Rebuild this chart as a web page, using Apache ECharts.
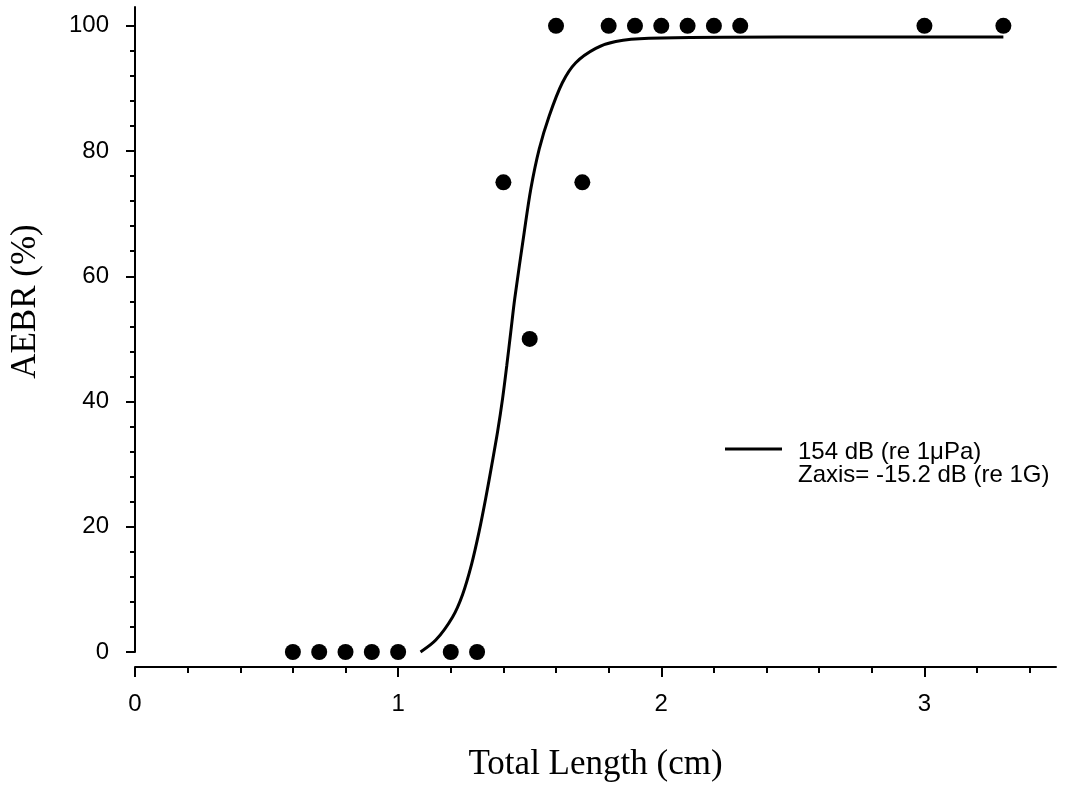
<!DOCTYPE html>
<html>
<head>
<meta charset="utf-8">
<script src="https://cdn.jsdelivr.net/npm/echarts@6/dist/echarts.min.js"></script>
<style>
  html, body { margin: 0; padding: 0; background: #fff; }
  #chart { width: 1070px; height: 787px; }
</style>
</head>
<body>
<div id="chart"></div>
<script>
// Observed AEBR per total length
const lengthCm = [0.6, 0.7, 0.8, 0.9, 1.0, 1.2, 1.3, 1.4, 1.5, 1.6, 1.7, 1.8, 1.9, 2.0, 2.1, 2.2, 2.3, 3.0, 3.3];
const aebrPct  = [0, 0, 0, 0, 0, 0, 0, 75, 50, 100, 75, 100, 100, 100, 100, 100, 100, 100, 100];

// Fitted response curve
const fitX = [1.085, 1.143, 1.207, 1.245, 1.279, 1.308, 1.333, 1.356, 1.378, 1.397, 1.413, 1.428, 1.443, 1.479, 1.504, 1.536, 1.574, 1.624, 1.675, 1.751, 1.827, 1.953, 2.46, 3.3];
const fitY = [0, 1.9, 5.6, 9.2, 14.0, 19.3, 24.6, 29.9, 35.2, 40.5, 45.8, 51.1, 56.4, 67.0, 73.9, 80.3, 85.6, 90.9, 94.1, 96.4, 97.5, 98.0, 98.2, 98.2];

// Tick values
const xMajorTicks = [0, 1, 2, 3];
const xMinorTicks = [0.2, 0.4, 0.6, 0.8, 1.2, 1.4, 1.6, 1.8, 2.2, 2.4, 2.6, 2.8, 3.2, 3.4];
const yMajorTicks = [0, 20, 40, 60, 80, 100];
const yMinorTicks = [4, 8, 12, 16, 24, 28, 32, 36, 44, 48, 52, 56, 64, 68, 72, 76, 84, 88, 92, 96];

const fitName = '154 dB (re 1\u03bcPa)\nZaxis= -15.2 dB (re 1G)';

const sans = '"Liberation Sans", Arial, sans-serif';
const serif = '"Liberation Serif", "Times New Roman", serif';

const chart = echarts.init(document.getElementById('chart'), null, { renderer: 'canvas' });

const xBase = { type: 'value', min: 0, max: 3.5, position: 'bottom', offset: 15, splitLine: { show: false } };
const yBase = { type: 'value', min: 0, max: 103, position: 'left', splitLine: { show: false } };
const tickLine = { color: '#000', width: 2 };

chart.setOption({
  animation: false,
  backgroundColor: '#fff',
  grid: { left: 132, right: 14, top: 7, bottom: 132, containLabel: false },
  legend: {
    data: [fitName],
    left: 725,
    top: 411,
    padding: 0,
    icon: 'rect',
    itemWidth: 57,
    itemHeight: 3,
    selectedMode: false,
    // first text line sits beside the line sample, second line below it
    formatter: function (name) {
      const parts = name.split('\n');
      return '{gap|}\n{t|' + parts[0] + '}\n{t|' + parts[1] + '}';
    },
    textStyle: {
      fontFamily: sans, fontSize: 24, color: '#000',
      rich: {
        gap: { height: 30, lineHeight: 30, fontSize: 10 },
        t: { fontFamily: sans, fontSize: 24, color: '#000', lineHeight: 23, height: 23, padding: [0, 0, 0, 11] }
      }
    }
  },
  xAxis: [
    Object.assign({}, xBase, {
      name: 'Total Length (cm)',
      nameLocation: 'middle',
      nameGap: 80,
      nameTextStyle: { fontFamily: serif, fontSize: 35, color: '#000' },
      axisLine: { show: true, onZero: false, lineStyle: { color: '#000', width: 2 } },
      axisTick: { show: true, inside: false, length: 10, customValues: xMajorTicks, lineStyle: tickLine },
      axisLabel: { show: true, margin: 25, customValues: xMajorTicks, fontFamily: sans, fontSize: 24, color: '#000' }
    }),
    Object.assign({}, xBase, {
      axisLine: { show: false, onZero: false },
      axisTick: { show: true, inside: false, length: 6, customValues: xMinorTicks, lineStyle: tickLine },
      axisLabel: { show: false }
    })
  ],
  yAxis: [
    Object.assign({}, yBase, {
      name: 'AEBR (%)',
      nameLocation: 'middle',
      nameGap: 92,
      nameRotate: 90,
      nameTextStyle: { fontFamily: serif, fontSize: 35, color: '#000', padding: [0, 0, 0, 56] },
      axisLine: { show: true, onZero: false, lineStyle: { color: '#000', width: 2 } },
      axisTick: { show: true, inside: false, length: 9, customValues: yMajorTicks, lineStyle: tickLine },
      axisLabel: { show: true, margin: 26, customValues: yMajorTicks, fontFamily: sans, fontSize: 24, color: '#000' }
    }),
    Object.assign({}, yBase, {
      axisLine: { show: false, onZero: false },
      axisTick: { show: true, inside: false, length: 5, customValues: yMinorTicks, lineStyle: tickLine },
      axisLabel: { show: false }
    })
  ],
  series: [
    {
      name: fitName,
      type: 'line',
      xAxisIndex: 0,
      yAxisIndex: 0,
      data: fitX.map((x, i) => [x, fitY[i]]),
      smooth: 0.3,
      showSymbol: false,
      symbol: 'none',
      clip: false,
      lineStyle: { color: '#000', width: 3 },
      itemStyle: { color: '#000' },
      z: 2
    },
    {
      name: 'Observed',
      type: 'scatter',
      xAxisIndex: 0,
      yAxisIndex: 0,
      data: lengthCm.map((x, i) => [x, aebrPct[i]]),
      symbol: 'circle',
      symbolSize: 16,
      clip: false,
      itemStyle: { color: '#000', opacity: 1 },
      z: 3
    }
  ]
});
</script>
</body>
</html>
